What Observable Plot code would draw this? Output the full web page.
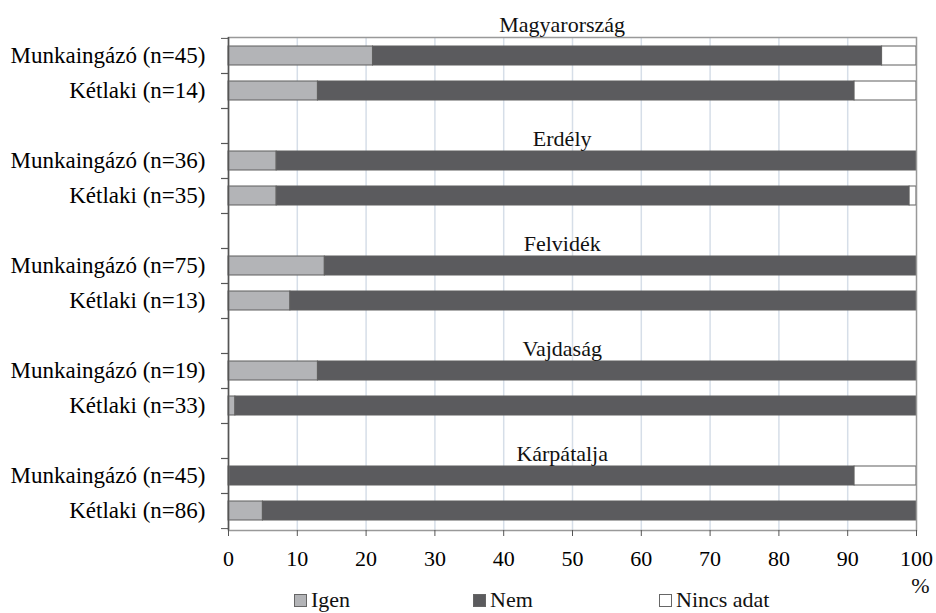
<!DOCTYPE html>
<html>
<head>
<meta charset="utf-8">
<script src="https://cdn.jsdelivr.net/npm/d3@7"></script>
<script src="https://cdn.jsdelivr.net/npm/@observablehq/plot@0.6"></script>
<style>
  body { margin: 0; background: #fff; font-family: 'Liberation Serif'; }
  #wrap { position: relative; width: 936px; height: 613px; font-family: 'Liberation Serif'; }
  #legend { position: absolute; left: 0; top: 589px; width: 936px; height: 22px; font-size: 22px; line-height: 22px; color: #111; }
  #legend .item { position: absolute; top: 0; white-space: nowrap; }
  #legend .sw { display: inline-block; width: 11px; height: 11px; border: 1px solid #666; margin-right: 4px; vertical-align: baseline; }
</style>
</head>
<body>
<div id="wrap"></div>
<script>
// ---- data ----
const regions = ["Magyarország", "Erdély", "Felvidék", "Vajdaság", "Kárpátalja"];
const groups = ["Munkaingázó", "Kétlaki"];
const nValues = [45, 14, 36, 35, 75, 13, 19, 33, 45, 86];
const igen  = [21, 13, 7, 7, 14, 9, 13, 1, 0, 5];
const nem   = [74, 78, 93, 92, 86, 91, 87, 99, 91, 95];
const nincs = [5, 9, 0, 1, 0, 0, 0, 0, 9, 0];
const categories = ["Igen", "Nem", "Nincs adat"];
const colors = ["#b3b4b7", "#5b5b5e", "#ffffff"];
const xTicks = [0, 10, 20, 30, 40, 50, 60, 70, 80, 90, 100];

// ---- build rows ----
const rowKeys = [];
const rowLabel = new Map();
const gapKeys = [];
const rows = [];
regions.forEach((r, i) => {
  if (i > 0) { const g = "gap" + i; rowKeys.push(g); rowLabel.set(g, ""); gapKeys.push({key: g, region: r}); }
  groups.forEach((gname, j) => {
    const idx = i * 2 + j;
    const key = r + "|" + gname;
    rowKeys.push(key);
    rowLabel.set(key, `${gname} (n=${nValues[idx]})`);
    rows.push({key, idx});
  });
});
const data = [];
rows.forEach(({key, idx}) => {
  [igen[idx], nem[idx], nincs[idx]].forEach((v, c) => data.push({key, cat: categories[c], value: v}));
});

const FONT = "'Liberation Serif'";
const W = 936, H = 597, mT = 37, mB = 67, mL = 228, mR = 20;
const step = (H - mT - mB) / rowKeys.length;

const chart = Plot.plot({
  width: W, height: H,
  marginTop: mT, marginBottom: mB, marginLeft: mL, marginRight: mR,
  style: {fontFamily: FONT, fontSize: "22px"},
  x: {domain: [0, 100], label: null},
  y: {domain: rowKeys, paddingInner: 0.45, paddingOuter: 0.225, label: null},
  color: {domain: categories, range: colors},
  marks: [
    Plot.gridX(xTicks.slice(1, -1), {stroke: "#d6dee8", strokeOpacity: 1, strokeWidth: 1.5}),
    Plot.barX(data, Plot.stackX({y: "key", x: "value", fill: "cat", order: categories, stroke: "#5f5f5f", strokeWidth: 1})),
    Plot.frame({stroke: "#999", strokeWidth: 1.5}),
    Plot.ruleX([0], {stroke: "#555", strokeWidth: 1.5}),
    Plot.axisX({ticks: xTicks, tickSize: 6, tickPadding: 14, stroke: "#555", fontSize: 22, tickFormat: d => d, label: null}),
    Plot.axisY({tickSize: 0, tickPadding: 23, fontSize: 23, tickFormat: k => rowLabel.get(k), label: null}),
    Plot.axisY({text: null, tickSize: 7, dy: step / 2, stroke: "#555", label: null}),
    Plot.axisY({text: null, tickSize: 7, dy: -step / 2, stroke: "#555", label: null}),
    Plot.text([regions[0]], {x: () => 48.5, y: () => rowKeys[0], dy: -31, fontSize: 22, fill: "#111"}),
    Plot.text(gapKeys, {x: () => 48.5, y: "key", text: "region", dy: 13, fontSize: 22, fill: "#111"}),
    Plot.text(["%"], {frameAnchor: "bottom-right", dx: 4, dy: 62, textAnchor: "middle", fontSize: 22, fill: "#111"})
  ]
});
const wrap = document.getElementById("wrap");
wrap.appendChild(chart);

// legend
const legend = document.createElement("div");
legend.id = "legend";
const legendLeft = [294, 473, 659];
categories.forEach((c, i) => {
  const it = document.createElement("span");
  it.className = "item";
  it.style.left = legendLeft[i] + "px";
  it.innerHTML = `<span class="sw" style="background:${colors[i]}"></span>${c}`;
  legend.appendChild(it);
});
wrap.appendChild(legend);
</script>
</body>
</html>
